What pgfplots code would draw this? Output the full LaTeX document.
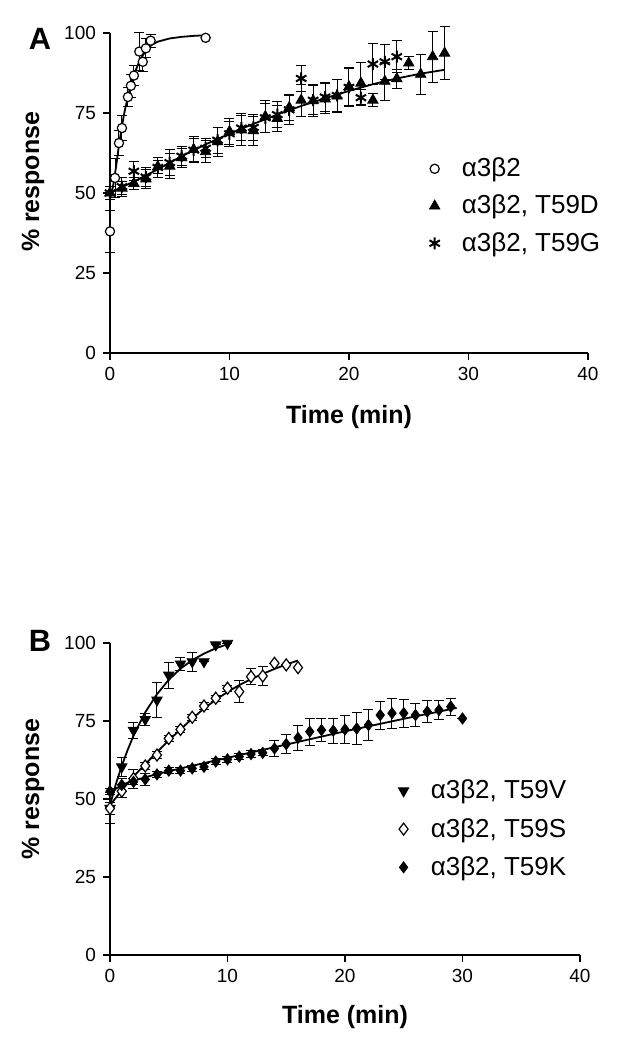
\documentclass[border=0pt]{standalone}
\usepackage{pgfplots}
\pgfplotsset{compat=1.18}
\usepackage{fontspec}
\setmainfont{Liberation Sans}

\pgfplotsset{
  panel/.style={
    scale only axis, clip=false,
    xmin=0, xmax=40, ymin=0, ymax=100, enlargelimits=false,
    axis x line=bottom, axis y line=left,
    axis line style={-, line width=0.75pt, black},
    every outer x axis line/.append style={-},
    every outer y axis line/.append style={-},
    xtick={0,10,20,30,40}, ytick={0,25,50,75,100},
    minor tick num=0,
    tick align=outside, major tick length=3.5pt,
    tick style={line width=0.6pt, black},
    ticklabel style={font=\fontsize{9.5}{11}\selectfont},
    /pgf/number format/assume math mode=true,
    xlabel={Time (min)}, ylabel={\% response},
    every axis x label/.style={at={(axis description cs:0.5,-0.2)}, anchor=center,
      font=\bfseries\fontsize{12.5}{14}\selectfont},
    legend style={draw=none, fill=none, font=\fontsize{13}{15}\selectfont,
      column sep=9pt, anchor=north west},
    legend cell align=left,
  },
  eb/.style={error bars/.cd, y dir=both, y explicit,
    error bar style={line width=0.5pt, black},
    error mark options={rotate=90, mark size=2.5pt, line width=0.5pt, black}},
  fit/.style={black, line width=0.9pt, no marks, forget plot},
}

\begin{document}
\begin{tikzpicture}
\path[use as bounding box] (-55pt,176.5pt) rectangle (258.5pt,-348.5pt);

% ---------------- Panel A ----------------
\begin{axis}[panel, at={(0pt,0pt)}, anchor=south west,
  width=239pt, height=160pt,
  every axis y label/.style={at={(axis description cs:-0.161,0.535)}, rotate=90, anchor=center,
    font=\bfseries\fontsize{12.5}{14}\selectfont},
  legend style={at={(axis description cs:0.655,0.636)}, row sep=3.7pt}]
\addplot[fit] coordinates {(0,48) (0.25,52) (0.5,58) (0.75,65) (1,71) (1.25,76) (1.5,80) (1.75,84) (2,87) (2.5,91.5) (3,94.5) (3.5,96.3) (4,97.3) (5,98.3) (6,98.8) (7,99.1) (8,99.3)};
\addplot[fit] coordinates {(0,50) (1,51.8) (2,53.6) (4,57.4) (6,61.5) (8,65.2) (10,68.5) (12,71.6) (14,74.5) (16,77.2) (18,79.6) (20,81.9) (22,84) (24,85.8) (26,87.3) (28,88.5)};

\addplot[only marks, mark=*, mark size=2.3pt, mark options={fill=white, draw=black, line width=0.6pt}, eb]
table[x=x, y=y, y error=e] {
x y e
0 38 6.5
0.42 54.7 6
0.75 65.6 4
1.0 70.3 4
1.5 80 3
1.75 83.5 3.5
2.0 86.7 3
2.45 94.2 6
2.74 91 3
3.0 95.2 3
3.4 97.6 2
8.0 98.5 0
};
\addlegendentry{α3β2}

\addplot[only marks, mark=triangle*, mark size=3pt, mark options={fill=black, draw=black}, eb]
table[x=x, y=y, y error=e] {
x y e
0 50 2
1 51.5 2
2 53 2
3 54.4 3
4 58.2 2
5 58.4 4
6 61 3
7 63.6 4
8 62.9 3.5
9 66 4.5
10 69.2 4
11 69.7 5
12 69.5 4.5
13 73.9 5
14 73.3 4
15 76.7 4
16 79 5
17 78.8 5
18 79.4 4.7
19 80.3 5.2
20 83.2 6
21 84.3 6.5
22 79 2
23 84.9 6
24 85.7 3
25 90.6 2
26 87.1 6.3
27 92.6 8
28 93.7 8.3
};
\addlegendentry{α3β2, T59D}

\addplot[only marks, mark=asterisk, mark size=3pt, mark options={draw=black, line width=1pt}, eb]
table[x=x, y=y, y error=e] {
x y e
0 50 2
1 52 3
2 56.8 3
3 55 3
4 58 3
5 59.5 4
6 61.5 3
7 63.4 3.5
8 64 3
9 66.5 4
10 68.5 4
11 70.3 4
12 70.5 4
13 73.5 4.5
14 74.5 4
15 76 4.5
16 85.8 4
17 79 4.5
18 80 4.5
19 80.5 5
20 83 6
21 79.8 2.5
22 90.3 6.5
23 91 5.5
24 92.6 5
};
\addlegendentry{α3β2, T59G}
\end{axis}
\node[font=\bfseries\fontsize{15.4}{17}\selectfont] at (-35pt,157pt) {A};

% ---------------- Panel B ----------------
\begin{axis}[panel, at={(0pt,-301pt)}, anchor=south west,
  width=235pt, height=156pt,
  every axis y label/.style={at={(axis description cs:-0.164,0.532)}, rotate=90, anchor=center,
    font=\bfseries\fontsize{12.5}{14}\selectfont},
  legend style={at={(axis description cs:0.60,0.588)}, row sep=4.2pt}]
\addplot[fit] coordinates {(0,48) (0.5,54.8) (1,60.6) (1.5,65.7) (2,70.3) (3,77.8) (4,83.6) (5,88.2) (6,91.8) (7,94.5) (8,96.6) (9,98.3) (10,99.6)};
\addplot[fit] coordinates {(0,48) (1,52.8) (2,57.2) (3,61.2) (4,65) (5,68.8) (6,72.3) (7,75.8) (8,79) (9,81.8) (10,84.3) (11,86.5) (12,88.4) (13,90.1) (14,91.7) (15,93.1) (16,94.4)};
\addplot[fit] coordinates {(0,51) (0.5,53.3) (1,54.5) (2,55.9) (4,58) (6,59.8) (8,61.5) (10,63.2) (12,64.9) (14,66.6) (16,68.3) (18,70) (20,71.7) (22,73.3) (24,74.9) (26,76.5) (28,78) (29.5,79.2)};

\addplot[only marks, mark=triangle*, mark size=3pt, mark options={rotate=180, fill=black, draw=black}, eb]
table[x=x, y=y, y error=e] {
x y e
0 47 5
1 60.3 3
2 72 2.5
3 75.5 2
4 81.7 5.5
5 89.7 4.2
6 93.3 2
7 94 3
8 94 0
9 99.4 0
10 99.9 0
};
\addlegendentry{α3β2, T59V}

\addplot[only marks, mark=diamond*, mark size=3pt, mark options={fill=white, draw=black, line width=0.6pt}, eb]
table[x=x, y=y, y error=e] {
x y e
0 47 2
1 52.5 2
2 56.5 3
3 60.6 1
4 64.1 1
5 69.4 1
6 72.3 1
7 76.2 1
8 79.8 1
9 82.3 1
10 85.5 1
11 84.4 3.5
12 89.2 2.5
13 89.4 3
14 93.5 0
15 93 0
16 92.1 0
};
\addlegendentry{α3β2, T59S}

\addplot[only marks, mark=diamond*, mark size=2.8pt, mark options={fill=black, draw=black}, eb]
table[x=x, y=y, y error=e] {
x y e
0 52.5 1
1 54.5 2
2 55.5 1
3 56.3 2
4 57.9 1
5 59.1 1
6 59.1 1
7 59.8 1
8 60.3 1
9 62 1
10 62.7 1
11 63.6 1
12 64.4 1
13 64.8 1
14 66.2 2.5
15 67.6 3
16 69.6 4
17 71.6 4.3
18 72.1 3.7
19 71.9 4
20 72.3 4.5
21 72.6 5
22 73.7 5
23 76.9 4.5
24 77.5 4.8
25 77.5 4.5
26 76.9 3.7
27 78 3.5
28 78.5 3
29 79.6 2.7
30 75.8 0
};
\addlegendentry{α3β2, T59K}
\end{axis}
\node[font=\bfseries\fontsize{15.4}{17}\selectfont] at (-35pt,-144pt) {B};
\end{tikzpicture}
\end{document}
